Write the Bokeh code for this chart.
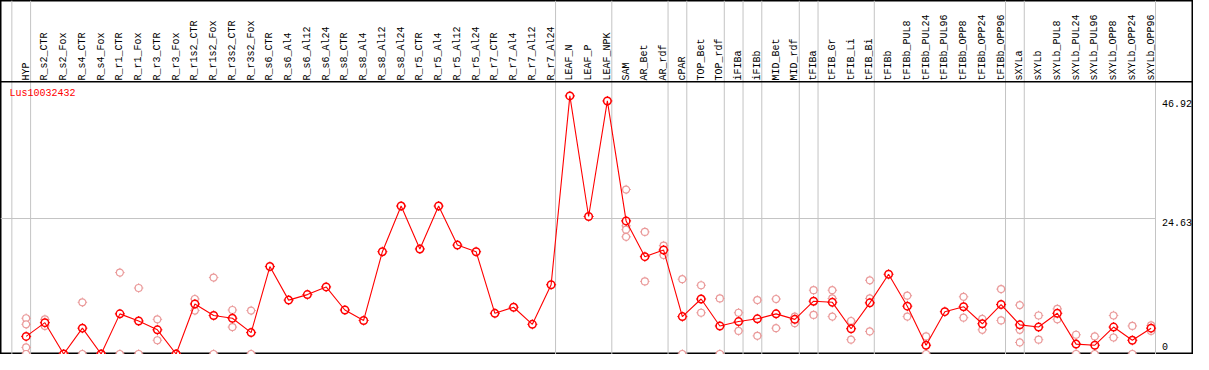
import math
from bokeh.plotting import figure
from bokeh.models import Range1d
from bokeh.core.properties import value
from bokeh.embed import file_html
from bokeh.resources import INLINE

gene = "Lus10032432"

categories = [
    "HYP", "R_s2_CTR", "R_s2_Fox", "R_s4_CTR", "R_s4_Fox", "R_r1_CTR", "R_r1_Fox",
    "R_r3_CTR", "R_r3_Fox", "R_r1s2_CTR", "R_r1s2_Fox", "R_r3s2_CTR", "R_r3s2_Fox",
    "R_s6_CTR", "R_s6_Al4", "R_s6_Al12", "R_s6_Al24", "R_s8_CTR", "R_s8_Al4",
    "R_s8_Al12", "R_s8_Al24", "R_r5_CTR", "R_r5_Al4", "R_r5_Al12", "R_r5_Al24",
    "R_r7_CTR", "R_r7_Al4", "R_r7_Al12", "R_r7_Al24", "LEAF_N", "LEAF_P", "LEAF_NPK",
    "SAM", "AR_Bet", "AR_rdf", "cPAR", "TOP_Bet", "TOP_rdf", "iFIBa", "iFIBb",
    "MID_Bet", "MID_rdf", "tFIBa", "tFIB_Gr", "tFIB_Li", "tFIB_Bi", "tFIBb",
    "tFIBb_PUL8", "tFIBb_PUL24", "tFIBb_PUL96", "tFIBb_OPP8", "tFIBb_OPP24",
    "tFIBb_OPP96", "sXYLa", "sXYLb", "sXYLb_PUL8", "sXYLb_PUL24", "sXYLb_PUL96",
    "sXYLb_OPP8", "sXYLb_OPP24", "sXYLb_OPP96",
]

means = [
    3.2, 5.7, 0.0, 4.7, 0.0, 7.3, 6.0, 4.4, 0.0, 9.1, 7.0, 6.5, 3.9,
    15.9, 9.8, 10.8, 12.2, 8.0, 6.1, 18.6, 26.9, 19.1, 26.9, 19.8, 18.6,
    7.4, 8.5, 5.4, 12.6, 46.92, 25.0, 46.0,
    24.2, 17.7, 18.9, 6.8, 10.0, 5.1, 5.9, 6.4, 7.3, 6.3, 9.6, 9.4, 4.6, 9.3,
    14.5, 8.7, 1.6, 7.7, 8.6, 5.5, 9.0, 5.3, 4.9, 7.4, 1.8, 1.6, 4.9, 2.5, 4.7,
]

replicates = [
    [6.5, 5.4, 1.2, 0.0], [6.3, 5.1], [0.0, 0.0], [9.4, 0.0], [0.0, 0.0],
    [14.8, 0.0], [12.0, 0.0], [6.3, 2.5], [0.0, 0.0], [10.0, 7.9], [13.9, 0.0],
    [8.0, 4.9], [7.9, 0.0],
    [], [], [], [], [], [], [], [], [], [], [], [], [], [], [], [],
    [], [], [],
    [29.9, 23.3, 22.6, 21.3], [22.2, 13.2], [19.7, 18.0], [13.6, 0.0],
    [12.5, 7.5], [10.1, 0.0], [7.5, 4.2], [9.8, 3.3], [10.0, 4.7], [6.8, 5.6],
    [11.6, 7.1], [11.6, 10.1, 6.8], [6.0, 2.6], [13.4, 10.1, 4.1],
    [], [10.6, 6.8], [3.2, 0.0], [], [10.4, 6.6], [6.4, 4.4], [11.8, 6.1],
    [8.9, 4.4, 2.1], [7.0, 2.6], [8.2, 6.3], [3.5, 0.0], [3.2, 0.0],
    [7.0, 3.0], [5.1, 0.0], [5.2, 4.2],
]

group_sizes = [1, 28, 3, 3, 1, 2, 1, 1, 2, 1, 3, 7, 1, 7]

tick_values = [0, 24.63, 46.92]
tick_labels = ["0", "24.63", "46.92"]

# ---------------- geometry (layout only) ----------------
W, H = 1193, 354
REF_W, REF_H = 1209, 370
PX0, DX = 26.0, 19.0        # px of first category, px per category (reference)
Y0, DY = 369.5, 5.75        # px of value 0, px per unit (reference)
sy = H / REF_H

x_lo, x_hi = -PX0 / DX, (REF_W - PX0) / DX
y_lo, y_hi = (Y0 - REF_H) / DY, Y0 / DY
y_header = (Y0 - 85) / DY
y_lab = (Y0 - 83.5) / DY
sep_off = 4.5 / DX
FONT = value("Liberation Mono")
FSIZE = "10px"

p = figure(width=W, height=H, x_range=Range1d(x_lo, x_hi), y_range=Range1d(y_lo, y_hi),
           output_backend="svg", toolbar_location=None, min_border=0,
           x_axis_type=None, y_axis_type=None, background_fill_color="white",
           border_fill_color="white")
p.grid.visible = False
p.outline_line_color = "black"
p.outline_line_width = 2

# group separators
bounds = [-1]
c = -1
for g in group_sizes:
    c += g
    bounds.append(c)
sep_x = [b + sep_off for b in bounds]
p.segment(x0=sep_x, y0=[y_lo] * len(sep_x), x1=sep_x, y1=[y_hi] * len(sep_x),
          line_color="#C4C4C4", line_width=1)

# horizontal grid for inner ticks
inner = [t for t in tick_values if 0 < t < max(tick_values)]
p.segment(x0=[x_lo] * len(inner), y0=inner, x1=[sep_x[-1]] * len(inner), y1=inner,
          line_color="#C4C4C4", line_width=1)

# header separator
p.segment(x0=[x_lo], y0=[y_header], x1=[x_hi], y1=[y_header], line_color="black", line_width=1.5)

idx = list(range(len(categories)))

# category labels (rotated)
p.text(x=idx, y=[y_lab] * len(idx), text=categories, angle=math.pi / 2,
       text_align="left", text_baseline="middle", text_font=FONT,
       text_font_size=FSIZE, text_color="black")

# gene label
p.text(x=[x_lo], y=[y_header], text=[gene], x_offset=9, y_offset=12 * sy,
       text_align="left", text_baseline="middle", text_font=FONT,
       text_font_size=FSIZE, text_color="red")

# value labels on the right
lab_x = (1177 - PX0) / DX
nudges = [-8 * sy, 4 * sy, 8 * sy]
for t, lab, nd in zip(tick_values, tick_labels, nudges):
    p.text(x=[lab_x], y=[t], text=[lab], y_offset=nd, text_align="left",
           text_baseline="middle", text_font=FONT,
           text_font_size=FSIZE, text_color="black")

# replicate points (pink)
rx = [i for i, reps in enumerate(replicates) for _ in reps]
ry = [v for reps in replicates for v in reps]
pink = "#EA9A9A"
p.scatter(rx, ry, marker="cross", size=9.5, line_color=pink, line_width=1)
p.scatter(rx, ry, marker="circle", size=7, fill_color="white", line_color=pink, line_width=1.2)

# mean series (red)
red = "#FF0000"
p.scatter(idx, means, marker="cross", size=10, line_color=red, line_width=1)
p.scatter(idx, means, marker="circle", size=7.5, fill_color="white", line_color=None)
p.line(idx, means, line_color=red, line_width=1.1)
p.scatter(idx, means, marker="circle", size=7.5, fill_color=None, line_color=red, line_width=1.5)

open("out.html", "w").write(file_html(p, INLINE))
